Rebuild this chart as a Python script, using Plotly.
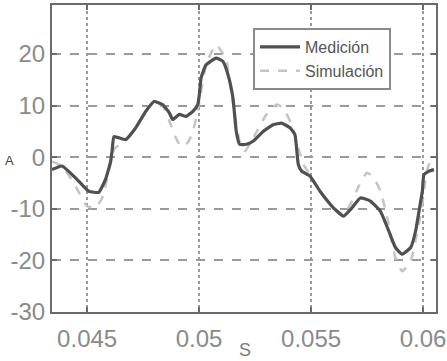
import plotly.graph_objects as go

med_x = [0.04343, 0.04388, 0.04448, 0.04507, 0.04552, 0.04582, 0.04605, 0.04612, 0.04620, 0.04672,
         0.04717, 0.04762, 0.04799, 0.04837, 0.04867, 0.04882, 0.04912, 0.04942, 0.04972, 0.04994,
         0.05001, 0.05009, 0.05031, 0.05076, 0.05106, 0.05129, 0.05151, 0.05166, 0.05181, 0.05211,
         0.05241, 0.05286, 0.05331, 0.05368, 0.05406, 0.05428, 0.05443, 0.05458, 0.05496, 0.05540,
         0.05600, 0.05645, 0.05683, 0.05720, 0.05765, 0.05810, 0.05847, 0.05877, 0.05907, 0.05945,
         0.05967, 0.05982, 0.05997, 0.06004, 0.06027, 0.06049]
med_y = [-2.4, -1.7, -4.0, -6.6, -6.8, -4.3, -0.8, 1.5, 4.0, 3.4,
         5.7, 8.9, 10.8, 10.2, 8.6, 7.3, 8.3, 7.9, 8.9, 10.2,
         12.1, 15.4, 17.9, 19.2, 18.6, 16.0, 11.5, 5.0, 2.5, 2.5,
         3.1, 5.0, 6.3, 6.6, 5.7, 4.4, -1.4, -2.7, -3.7, -6.6,
         -9.8, -11.4, -9.8, -7.9, -8.5, -10.5, -14.3, -17.5, -18.8, -17.5,
         -14.3, -10.5, -6.6, -3.4, -2.7, -2.4]

sim_x = [0.04343, 0.04388, 0.04448, 0.04500, 0.04537, 0.04567, 0.04597, 0.04620, 0.04672, 0.04717,
         0.04762, 0.04799, 0.04837, 0.04867, 0.04897, 0.04919, 0.04949, 0.04972, 0.04987, 0.05001,
         0.05031, 0.05076, 0.05121, 0.05136, 0.05159, 0.05181, 0.05204, 0.05241, 0.05301, 0.05346,
         0.05376, 0.05413, 0.05443, 0.05466, 0.05496, 0.05540, 0.05600, 0.05645, 0.05683, 0.05713,
         0.05750, 0.05780, 0.05810, 0.05840, 0.05877, 0.05907, 0.05945, 0.05975, 0.05997, 0.06012,
         0.06027, 0.06049]
sim_y = [-0.8, -1.7, -5.6, -9.5, -9.8, -7.9, -2.7, 1.5, 3.4, 5.7,
         8.9, 10.8, 9.9, 7.0, 3.7, 2.1, 2.8, 5.0, 7.6, 10.8,
         17.9, 21.8, 18.9, 14.7, 8.3, 3.1, 1.2, 3.7, 8.3, 10.2,
         9.5, 6.3, 1.8, -1.4, -3.4, -6.6, -9.8, -11.1, -8.5, -5.6,
         -3.0, -4.0, -6.6, -11.7, -19.5, -22.1, -20.1, -14.3, -9.2, -4.0,
         -1.4, -1.1]

x_ticks = [0.045, 0.05, 0.055, 0.06]
x_tick_text = ["0.045", "0.05", "0.055", "0.06"]
y_ticks = [-30, -20, -10, 0, 10, 20]
y_tick_text = ["-30", "-20", "-10", "0", "10", "20"]

FONT = "Liberation Sans Narrow, Liberation Sans, Arial"
tick_font = dict(family=FONT, size=24, color="#8a8a8a")

fig = go.Figure()
fig.add_trace(go.Scatter(x=sim_x, y=sim_y, mode="lines", name="Simulación",
                         line=dict(color="#c4c4c4", width=2.5, dash="dash", shape="spline", smoothing=0.5)))
fig.add_trace(go.Scatter(x=med_x, y=med_y, mode="lines", name="Medición",
                         line=dict(color="#505050", width=3.2, shape="spline", smoothing=0.4)))

L, R, T, B = 52, 11, 5, 49
fig.update_layout(
    width=447, height=361,
    margin=dict(l=L, r=R, t=T, b=B, autoexpand=False),
    paper_bgcolor="white", plot_bgcolor="white",
    showlegend=True,
    legend=dict(x=(253 - L) / (447 - L - R), y=(361 - B - 28) / (361 - T - B),
                xanchor="left", yanchor="top",
                bgcolor="white", bordercolor="#8a8a8a", borderwidth=2,
                font=dict(family=FONT, size=16, color="#555555"),
                traceorder="reversed", itemwidth=40, tracegroupgap=0),
    xaxis=dict(range=[0.04343, 0.06058], tickvals=x_ticks, ticktext=x_tick_text,
               automargin=False, ticklabeloverflow="allow", ticklabelstandoff=4,
               showgrid=True, gridcolor="#9a9a9a", gridwidth=2, griddash="dot",
               showline=True, linecolor="#6a6a6a", linewidth=2, mirror="ticks",
               ticks="inside", ticklen=5, tickcolor="#6a6a6a", tickwidth=2,
               tickfont=tick_font, zeroline=False),
    yaxis=dict(range=[-30, 29.5], tickvals=y_ticks, ticktext=y_tick_text,
               automargin=False,
               showgrid=True, gridcolor="#9a9a9a", gridwidth=2, griddash="dash",
               showline=True, linecolor="#6a6a6a", linewidth=2, mirror="ticks",
               ticks="inside", ticklen=5, tickcolor="#6a6a6a", tickwidth=2,
               tickfont=tick_font, zeroline=False),
)
pw, ph = 447 - L - R, 361 - T - B
fig.layout.annotations = [
    dict(text="A", x=(9 - L) / pw, y=(361 - B - 160) / ph, xref="paper", yref="paper",
         xanchor="center", yanchor="middle",
         showarrow=False, font=dict(family="Liberation Sans", size=13, color="#444444")),
    dict(text="S", x=(245 - L) / pw, y=(361 - B - 350) / ph, xref="paper", yref="paper",
         xanchor="center", yanchor="middle",
         showarrow=False, font=dict(family="Liberation Sans", size=18, color="#7a7a7a")),
]

fig.write_html("out.html", config={"displayModeBar": False},
               post_script="document.body.style.margin='0';document.body.style.overflow='hidden';")
